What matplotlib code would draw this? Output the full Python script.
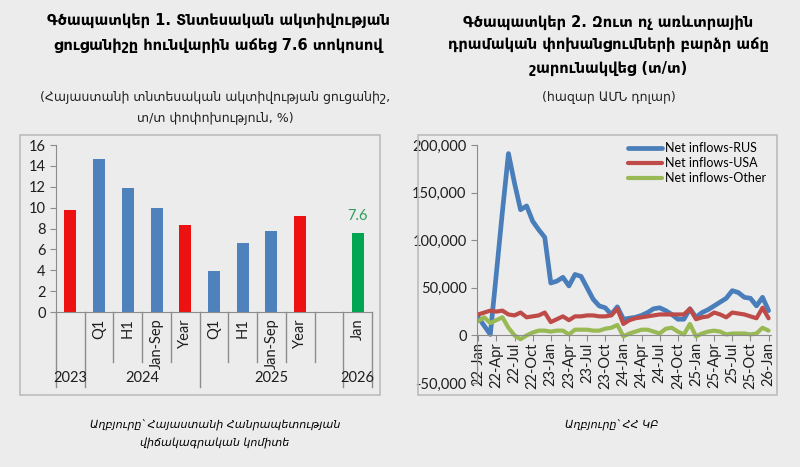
import matplotlib.pyplot as plt
import matplotlib.patches as mpatches
import matplotlib.transforms as mtransforms
from matplotlib.ticker import FuncFormatter, MultipleLocator
import numpy as np

# left chart: economic activity index, y/y %
bar_labels = ["", "Q1", "H1", "Jan-Sep", "Year", "Q1", "H1", "Jan-Sep", "Year", "", "Jan"]
bar_values = [9.8, 14.7, 11.9, 10.0, 8.3, 3.9, 6.6, 7.8, 9.2, np.nan, 7.6]
bar_kinds = ["year", "q", "q", "q", "year", "q", "q", "q", "year", "q", "last"]
year_labels = ["2023", "2024", "2025", "2026"]
year_pos = [0, 2.5, 7, 10]

# right chart: net inflows, thousand USD, monthly Jan-22 .. Jan-26
rus = [19, 10, 1, 65, 130, 191, 160, 132, 136, 120, 111, 103,
       55, 57, 61, 52, 64, 62, 50, 38, 31, 29, 22, 30,
       17, 18, 19, 21, 24, 28, 29, 26, 22, 17, 17, 28,
       19, 24, 27, 31, 35, 39, 47, 45, 40, 39, 31, 40, 26]
usa = [22, 24, 26, 25, 26, 22, 21, 24, 19, 20, 21, 24,
       14, 17, 20, 16, 20, 20, 21, 21, 20, 20, 21, 28,
       12, 16, 18, 19, 20, 21, 22, 22, 22, 22, 22, 28,
       17, 19, 20, 24, 22, 19, 24, 23, 22, 20, 18, 29, 18]
other = [15, 19, 13, 16, 19, 8, 0, -4, 0, 3, 5, 5,
         4, 5, 5, 1, 6, 6, 6, 5, 5, 7, 8, 11,
         -1, 2, 4, 6, 6, 4, 2, 7, 8, 4, 1, 12,
         -1, 2, 4, 5, 4, 1, 2, 2, 2, 1, 2, 8, 5]
month_ticks = ["22-Jan", "22-Apr", "22-Jul", "22-Oct", "23-Jan", "23-Apr", "23-Jul", "23-Oct",
               "24-Jan", "24-Apr", "24-Jul", "24-Oct", "25-Jan", "25-Apr", "25-Jul", "25-Oct",
               "26-Jan"]

BG = "#ececec"
AXC = "#8c8c8c"
TICK_FONT = "Lato"
TXT = "#1e1e1e"

fig = plt.figure(figsize=(8, 4.67), dpi=100, facecolor=BG)


def px(x, y):
    return x / 800, 1 - y / 467


# panel frames
for x0, x1 in [(20, 380), (418, 777)]:
    fig.patches.append(mpatches.Rectangle(px(x0, 395), (x1 - x0) / 800, 260 / 467,
                                          transform=fig.transFigure, fill=False,
                                          edgecolor="#bdbdbd", linewidth=1.2))

# titles
title_l = ["Գծապատկեր 1. Տնտեսական ակտիվության", "ցուցանիշը հունվարին աճեց 7.6 տոկոսով"]
sub_l = ["(Հայաստանի տնտեսական ակտիվության ցուցանիշ,", "տ/տ փոփոխություն, %)"]
title_r = ["Գծապատկեր 2. Զուտ ոչ առևտրային", "դրամական փոխանցումների բարձր աճը", "շարունակվեց (տ/տ)"]
sub_r = ["(հազար ԱՄՆ դոլար)"]

for i, t in enumerate(title_l):
    fig.text(*px(218, 20 + 25 * i), t, ha="center", va="center", fontsize=10.5,
             fontweight="bold", family="DejaVu Sans")
for i, t in enumerate(sub_l):
    fig.text(*px(215, 98 + 20 * i), t, ha="center", va="center", fontsize=9,
             family="DejaVu Sans", color="#222222")
for i, t in enumerate(title_r):
    fig.text(*px(608, 22 + 23 * i), t, ha="center", va="center", fontsize=10.5,
             fontweight="bold", family="DejaVu Sans")
for i, t in enumerate(sub_r):
    fig.text(*px(609, 97), t, ha="center", va="center", fontsize=9,
             family="DejaVu Sans", color="#222222")

# footers
fig.text(*px(215, 425), "Աղբյուրը՝ Հայաստանի Հանրապետության", ha="center", va="center",
         fontsize=8, style="italic", family="DejaVu Sans")
fig.text(*px(215, 443), "վիճակագրական կոմիտե", ha="center", va="center",
         fontsize=8, style="italic", family="DejaVu Sans")
fig.text(*px(612, 425), "Աղբյուրը՝ ՀՀ ԿԲ", ha="center", va="center",
         fontsize=8, style="italic", family="DejaVu Sans")

# ---- left chart
ax1 = fig.add_axes([56 / 800, 1 - 312 / 467, 316 / 800, 167 / 467])
ax1.set_facecolor("none")
colors = {"year": "#ee1111", "q": "#4f81bd", "last": "#00a651"}
xs = np.arange(len(bar_values))
ax1.bar(xs, bar_values, width=0.42, color=[colors[k] for k in bar_kinds])
ax1.set_xlim(-0.5, len(bar_values) - 0.5)
ax1.set_ylim(0, 16)
ax1.yaxis.set_major_locator(MultipleLocator(2))
for s in ["top", "right"]:
    ax1.spines[s].set_visible(False)
for s in ["left", "bottom"]:
    ax1.spines[s].set_color(AXC)
ax1.tick_params(axis="y", colors=AXC, labelcolor=TXT, labelsize=10.5, length=4)
for lab in ax1.get_yticklabels():
    lab.set_family(TICK_FONT)
ax1.set_xticks([])
ax1.annotate(f"{bar_values[-1]:.1f}", (xs[-1], bar_values[-1]), xytext=(0, 7),
             textcoords="offset points", ha="center", va="bottom", color="#2e9e5b",
             fontsize=10.5, family=TICK_FONT)

trans = mtransforms.blended_transform_factory(ax1.transData, ax1.transAxes)
long_sep = {0, 1, 5, 10, 11}
for k in range(len(bar_values) + 1):
    y_end = -0.45 if k in long_sep else -0.30
    ax1.plot([k - 0.5, k - 0.5], [0, y_end], transform=trans, color=AXC,
             linewidth=1, clip_on=False)
for i, lab in enumerate(bar_labels):
    if lab:
        ax1.text(i, -0.04, lab, transform=trans, rotation=90, ha="center", va="top",
                 fontsize=10.5, family=TICK_FONT, color=TXT)
for p, lab in zip(year_pos, year_labels):
    ax1.text(p, -0.395, lab, transform=trans, ha="center", va="center",
             fontsize=10.5, family=TICK_FONT, color=TXT)

# ---- right chart
ax2 = fig.add_axes([477 / 800, 1 - 383 / 467, 294 / 800, 238 / 467])
ax2.set_facecolor("none")
months = np.arange(len(rus))
ax2.plot(months, np.array(rus) * 1000, color="#4a7ebb", linewidth=3.4,
         solid_joinstyle="round", solid_capstyle="round", label="Net inflows-RUS")
ax2.plot(months, np.array(usa) * 1000, color="#be4b48", linewidth=3.0,
         solid_joinstyle="round", solid_capstyle="round", label="Net inflows-USA")
ax2.plot(months, np.array(other) * 1000, color="#98b954", linewidth=3.0,
         solid_joinstyle="round", solid_capstyle="round", label="Net inflows-Other")
ax2.set_xlim(-0.2, 48.4)
ax2.set_ylim(-50000, 200000)
ax2.yaxis.set_major_locator(MultipleLocator(50000))
ax2.yaxis.set_major_formatter(FuncFormatter(lambda v, _: f"{v:,.0f}"))
ax2.set_xticks(np.arange(0, len(rus), 3))
ax2.set_xticklabels(month_ticks)
for s in ["top", "right"]:
    ax2.spines[s].set_visible(False)
for s in ["left", "bottom"]:
    ax2.spines[s].set_color(AXC)
ax2.spines["bottom"].set_position(("data", 0))
ax2.tick_params(axis="both", colors=AXC, labelcolor=TXT, length=4)
ax2.tick_params(axis="y", labelsize=10.5)
ax2.tick_params(axis="x", labelsize=10.5, labelrotation=90, pad=1)
for lab in ax2.get_yticklabels() + ax2.get_xticklabels():
    lab.set_family(TICK_FONT)
leg = ax2.legend(loc="upper left", bbox_to_anchor=(0.497, 1.034), borderaxespad=0,
                 frameon=False, handlelength=2.7, handletextpad=0.25, labelspacing=0.25,
                 prop={"family": TICK_FONT, "size": 9})

fig.savefig("out.png", dpi=100, facecolor=BG)
